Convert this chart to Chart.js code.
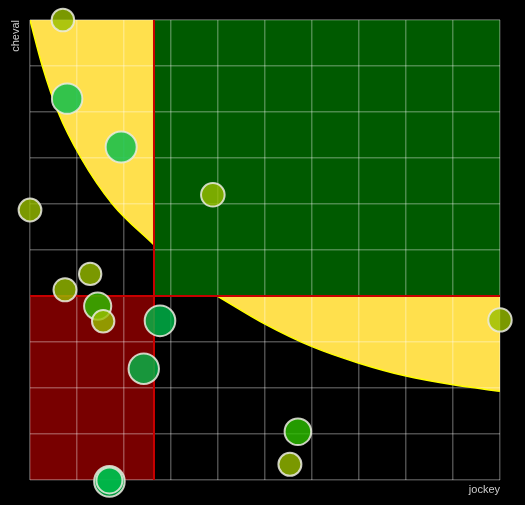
<!DOCTYPE html>
<html>
<head>
<meta charset="utf-8">
<script src="https://cdn.jsdelivr.net/npm/chart.js@4/dist/chart.umd.min.js"></script>
<style>
body{margin:0;background:#000;}
canvas{display:block;background:#000;}
</style>
</head>
<body>
<canvas id="chart" width="525" height="505"></canvas>
<script>

/* DATA */

const jockey=[0.70,0.79,1.94,3.89,0.00,1.28,0.745,1.44,1.557,2.766,2.42,5.70,5.53,1.69,1.69,10.00];
const cheval=[10.0,8.29,7.24,6.20,5.87,4.48,4.135,3.78,3.45,3.46,2.42,1.05,0.34,-0.03,-0.01,3.48];
const sizes=[11.3,15.2,15.5,11.8,11.4,11.2,11.5,13.6,11.2,15.3,15.2,13.3,11.5,15.3,13.0,11.7];
const groups=["a","b","b","a","a","a","a","c","a","b","b","c","a","b","b","a"];

/* limits */
const jockeyCut=2.638;
const chevalCut=4;

/* yellow curve, upper left and lower right parts */
const curveTopX=[0,0.262,0.596,1.085,1.751,2.638];
const curveTopY=[10,9,8,7,6,5.11];
const curveLowX=[3.985,5,6,7,8,9,10];
const curveLowY=[4,3.39,2.90,2.54,2.26,2.07,1.93];


/* COLOURS */

const groupColor={
a:"rgba(152,190,0,0.8)",
b:"rgba(0,188,75,0.8)",
c:"rgba(45,194,0,0.8)"
};

const points=jockey.map((x,i)=>({x:x,y:cheval[i],r:sizes[i]}));
const curveTop=curveTopX.map((x,i)=>({x:x,y:curveTopY[i]}));
const curveLow=curveLowX.map((x,i)=>({x:x,y:curveLowY[i]}));

function yellowPart(data,order){
return {
type:"line",
data:data,
borderColor:"#ffff00",
borderWidth:1.5,
backgroundColor:"#ffe04d",
pointRadius:0,
cubicInterpolationMode:"monotone",
fill:"end",
order:order
};
}


/* CHART */

new Chart(document.getElementById("chart"),{

type:"bubble",

data:{
datasets:[
{
data:points,
backgroundColor:groups.map(g=>groupColor[g]),
borderColor:"rgba(235,235,225,0.85)",
borderWidth:2,
clip:false,
order:0
},
{
type:"line",
data:[{x:jockeyCut,y:0},{x:jockeyCut,y:10}],
borderColor:"#c80000",
borderWidth:2,
pointRadius:0,
fill:false,
order:1
},
{
type:"line",
data:[{x:jockeyCut,y:chevalCut},{x:10,y:chevalCut}],
borderColor:"#c80000",
borderWidth:2,
backgroundColor:"#005a00",
pointRadius:0,
fill:"end",
order:2
},
{
type:"line",
data:[{x:0,y:chevalCut},{x:jockeyCut,y:chevalCut}],
borderColor:"#c80000",
borderWidth:2,
backgroundColor:"#780000",
pointRadius:0,
fill:"start",
order:3
},
yellowPart(curveTop,4),
yellowPart(curveLow,5)
]
},

options:{
responsive:false,
animation:false,
devicePixelRatio:1,
layout:{padding:{top:20,right:25,left:0,bottom:0}},
plugins:{
legend:{display:false},
tooltip:{enabled:false},
filler:{drawTime:"beforeDraw"}
},
scales:{
x:{
type:"linear",
min:0,
max:10,
afterFit:s=>{s.height=25;},
ticks:{display:false,stepSize:1},
border:{display:false},
grid:{color:"rgba(255,255,255,0.3)",lineWidth:1.5,drawTicks:false},
title:{
display:true,
text:"jockey",
align:"end",
color:"#cccccc",
font:{family:"Liberation Sans",size:11},
padding:{top:9,bottom:8}
}
},
y:{
type:"linear",
min:0,
max:10,
afterFit:s=>{s.width=30;},
ticks:{display:false,stepSize:1},
border:{display:false},
grid:{color:"rgba(255,255,255,0.3)",lineWidth:1.5,drawTicks:false},
title:{
display:true,
text:"cheval",
align:"end",
color:"#cccccc",
font:{family:"Liberation Sans",size:11},
padding:{top:9,bottom:8}
}
}
}
}

});

</script>
</body>
</html>
